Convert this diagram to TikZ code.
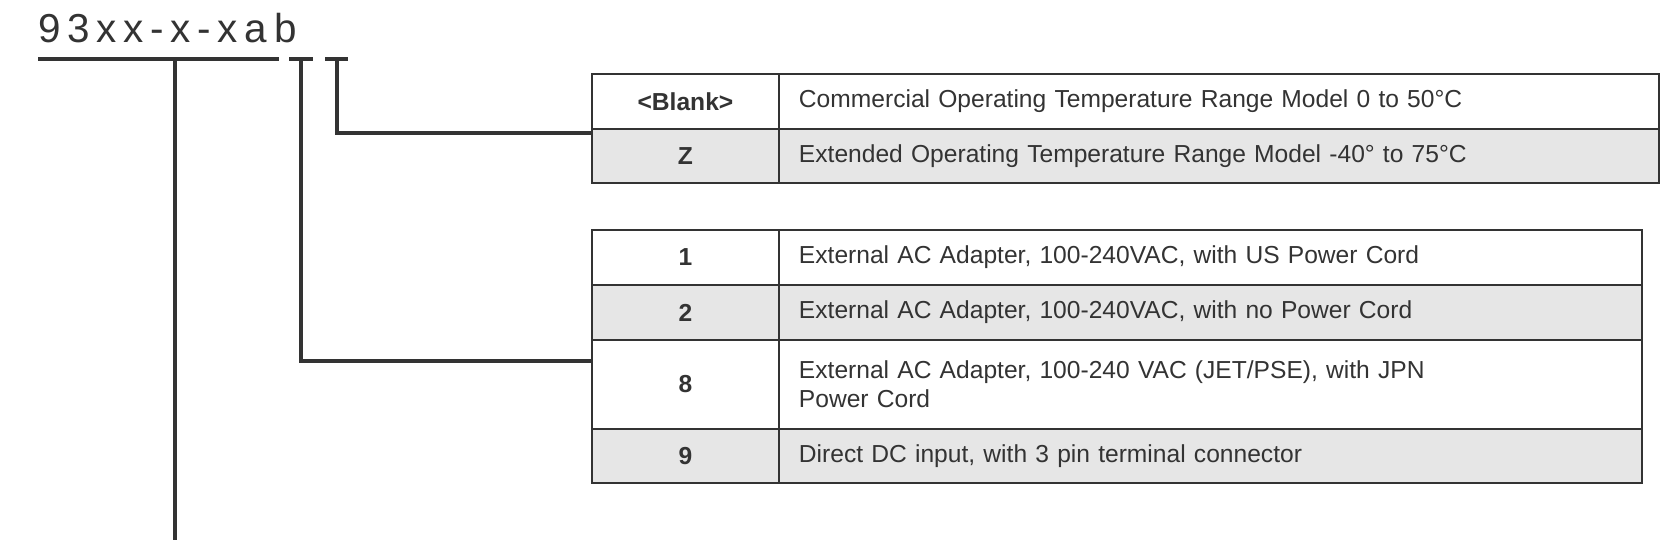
\documentclass[tikz,border=0pt]{standalone}
\usepackage{fontspec}
\setmainfont{Liberation Sans}
\definecolor{rowgray}{HTML}{E6E6E6}
\definecolor{ink}{HTML}{333333}
\tikzset{
  keycell/.style={draw=ink, line width=1.1pt, anchor=north west, minimum width=3.74cm, inner sep=0pt, font=\fontsize{14}{17}\selectfont\bfseries, text=ink},
  desccell/.style={draw=ink, line width=1.1pt, anchor=north west, inner sep=0pt, align=left, text width=16.4cm, font=\fontsize{14}{17}\selectfont, text=ink},
  leader/.style={ink, line width=2.4pt},
}
\begin{document}
\begin{tikzpicture}[x=0.02cm, y=-0.02cm]
    \useasboundingbox (0,0) rectangle (1680,540);
    % part number
    \node[anchor=base west, inner sep=0pt, text=ink, font=\fontsize{23}{26}\selectfont] (pn) at (38,43) {9\,3\,x\,x\,-\,x\,-\,x\,a\,b};
    \coordinate (m1) at (38,59);
    \coordinate (m2) at (279,59);
    \coordinate (a1) at (289,59);
    \coordinate (a2) at (313,59);
    \coordinate (b1) at (325,59);
    \coordinate (b2) at (348,59);
    \coordinate (mtop) at (175,59);
    \coordinate (atop) at (301,59);
    \coordinate (btop) at (337,59);
    \coordinate (mend) at (175,540);
    \draw[leader] (m1) -- (m2);
    \draw[leader] (a1) -- (a2);
    \draw[leader] (b1) -- (b2);
    % temperature table
    \node[keycell, minimum height=1.1cm] (bk) at (591,73) {<Blank>};
    \node[desccell, minimum height=1.1cm, text width=16.8cm, minimum width=17.2cm, inner xsep=0.4cm] (bd) at (778,73) {Commercial Operating Temperature Range Model 0 to 50°C};
    \node[keycell, minimum height=1.08cm, fill=rowgray] (zk) at (591,128) {Z};
    \node[desccell, minimum height=1.08cm, text width=16.8cm, minimum width=17.2cm, inner xsep=0.4cm, fill=rowgray] (zd) at (778,128) {Extended Operating Temperature Range Model -40° to 75°C};
    % power table
    \node[keycell, minimum height=1.1cm] (k1) at (591,229) {1};
    \node[desccell, minimum height=1.1cm, text width=16.46cm, minimum width=17.26cm, inner xsep=0.4cm] (d1) at (778,229) {External AC Adapter, 100-240VAC, with US Power Cord};
    \node[keycell, minimum height=1.1cm, fill=rowgray] (k2) at (591,284) {2};
    \node[desccell, minimum height=1.1cm, text width=16.46cm, minimum width=17.26cm, inner xsep=0.4cm, fill=rowgray] (d2) at (778,284) {External AC Adapter, 100-240VAC, with no Power Cord};
    \node[keycell, minimum height=1.78cm] (k8) at (591,339) {8};
    \node[desccell, minimum height=1.78cm, text width=16.46cm, minimum width=17.26cm, inner xsep=0.4cm, font=\fontsize{14}{16.5}\selectfont] (d8) at (778,339) {External AC Adapter, 100-240 VAC (JET/PSE), with JPN\\Power Cord};
    \node[keycell, minimum height=1.08cm, fill=rowgray] (k9) at (591,428) {9};
    \node[desccell, minimum height=1.08cm, text width=16.46cm, minimum width=17.26cm, inner xsep=0.4cm, fill=rowgray] (d9) at (778,428) {Direct DC input, with 3 pin terminal connector};
    % leaders
    \draw[leader] (btop) |- ([yshift=-0.06cm]bk.south west);
    \draw[leader] (atop) |- ([yshift=-0.44cm]k8.north west);
    \draw[leader] (mtop) -- (mend);
\end{tikzpicture}
\end{document}
